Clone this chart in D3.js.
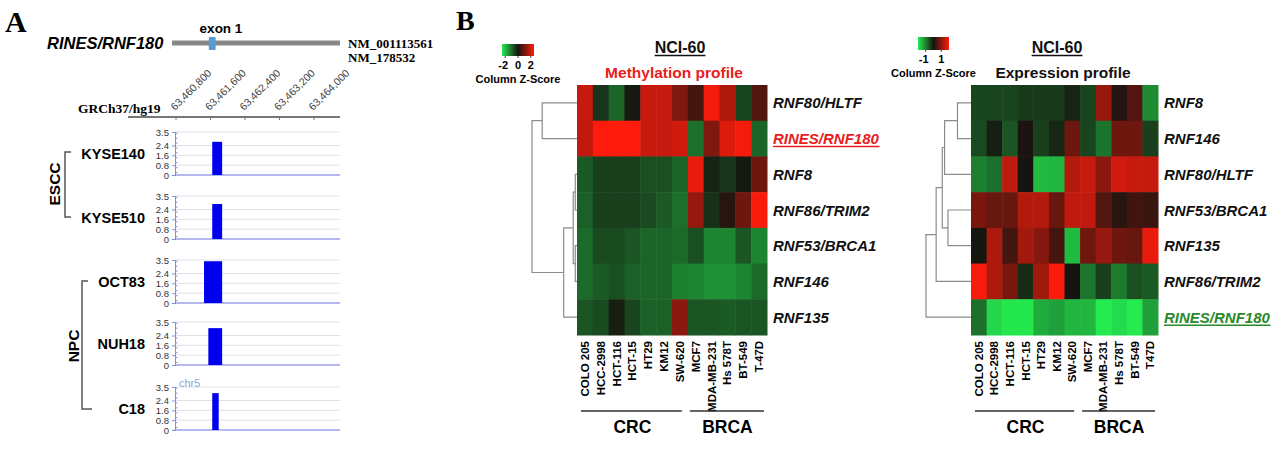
<!DOCTYPE html>
<html><head><meta charset="utf-8">
<script src="https://cdn.jsdelivr.net/npm/d3@7"></script>
<style>body{margin:0;background:#fff}svg{display:block}</style>
</head><body><svg id="c" width="1276" height="460" font-family='"Liberation Sans",Arial,sans-serif'></svg>
<script>
// ---------- Panel A data ----------
const trackNames = ['KYSE140', 'KYSE510', 'OCT83', 'NUH18', 'C18'];
const barStart = [63461640, 63461640, 63461450, 63461550, 63461640];
const barEnd = [63461870, 63461870, 63461870, 63461870, 63461790];
const barValue = [2.7, 2.85, 3.4, 3.0, 3.0];
const trackTicks = [0, 0.8, 1.6, 2.4, 3.5];
const genomeTicks = [63460800, 63461600, 63462400, 63463200, 63464000];
const exonStart = 63461560, exonEnd = 63461720;

// ---------- Panel B data ----------
const methCells = ['COLO 205', 'HCC-2998', 'HCT-116', 'HCT-15', 'HT29', 'KM12', 'SW-620', 'MCF7', 'MDA-MB-231', 'Hs 578T', 'BT-549', 'T-47D'];
const exprCells = ['COLO 205', 'HCC-2998', 'HCT-116', 'HCT-15', 'HT29', 'KM12', 'SW-620', 'MCF7', 'MDA-MB-231', 'Hs 578T', 'BT-549', 'T47D'];
const groups = ['CRC', 'BRCA'];
const groupSize = [7, 5];
const methGenes = ['RNF80/HLTF', 'RINES/RNF180', 'RNF8', 'RNF86/TRIM2', 'RNF53/BRCA1', 'RNF146', 'RNF135'];
const methValues = [
  [1.5, -0.3, -0.75, -0.05, 1.5, 1.5, 0.9, 0.4, 1.9, 1.3, -0.45, 0.5],
  [1.45, 2.0, 2.0, 2.0, 1.5, 1.5, 1.6, -0.85, 0.9, 1.7, 1.9, -0.75],
  [-0.65, -0.4, -0.4, -0.4, -0.55, -0.55, -0.75, 1.8, -0.15, -0.3, -0.05, 0.75],
  [-0.7, -0.4, -0.4, -0.4, -0.5, -0.65, -0.85, 1.1, -0.25, 0.15, 0.75, 1.95],
  [-0.8, -0.5, -0.5, -0.6, -0.75, -0.75, -0.8, -0.55, -1.05, -1.05, -0.6, -1.05],
  [-0.8, -0.65, -0.55, -0.7, -0.75, -0.75, -1.0, -1.05, -1.15, -1.15, -1.05, -0.8],
  [-0.6, -0.5, -0.1, -0.45, -0.7, -0.7, 1.0, -0.6, -0.6, -0.65, -0.6, -0.6]
];
const exprGenes = ['RNF8', 'RNF146', 'RNF80/HLTF', 'RNF53/BRCA1', 'RNF135', 'RNF86/TRIM2', 'RINES/RNF180'];
const exprValues = [
  [-0.45, -0.45, -0.45, -0.35, -0.35, -0.35, -0.15, -0.45, 1.1, 0.1, 0.5, -1.1],
  [-0.5, -0.1, -0.6, 0.05, -0.4, -0.18, 0.75, -0.45, -0.9, 0.75, 0.75, -0.4],
  [-1.0, -0.85, 1.45, 0.0, -1.55, -1.5, 1.35, 1.5, 1.0, 1.6, 1.5, 1.5],
  [0.85, 0.7, 0.7, 1.35, 1.35, 0.7, 1.45, 1.45, 0.5, 0.15, 0.35, 0.3],
  [-0.02, 1.3, 0.4, 1.2, 0.95, 0.4, -1.55, 0.75, 1.1, 0.75, 0.7, 1.8],
  [1.95, 1.3, 0.85, -0.2, 1.2, 1.95, 0.0, -0.9, -0.4, -0.95, -0.55, -0.65],
  [-0.85, -1.8, -1.95, -1.95, -1.4, -1.3, -1.5, -1.5, -2.0, -1.85, -2.0, -1.3]
];
// dendrogram merges: [childA, childB, height]; leaves 0..6, new nodes 7..
const methMerges = [[0, 1, 34], [2, 3, 1.7], [4, 5, 1.7], [8, 9, 3.7], [10, 6, 13], [7, 11, 44]];
const exprMerges = [[0, 1, 13.3], [7, 2, 26], [3, 4, 22.7], [8, 9, 28.3], [10, 5, 34.3], [11, 6, 44.3]];
const methLegendTicks = [-2, 0, 2];
const exprLegendTicks = [-1, 1];

const svg = d3.select('#c');
svg.append('rect').attr('width', 1276).attr('height', 460).attr('fill', '#fff');
const serif = '"Liberation Serif","Times New Roman",serif';

// ================= PANEL A =================
svg.append('text').attr('x', 5).attr('y', 32).attr('font-family', serif).attr('font-weight', 'bold')
  .attr('font-size', 30).text('A');
svg.append('text').attr('x', 47).attr('y', 49).attr('font-weight', 'bold').attr('font-style', 'italic')
  .attr('font-size', 16.5).text('RINES/RNF180');
const gx = d3.scaleLinear().domain([genomeTicks[0], genomeTicks[4]]).range([176, 314]);
svg.append('line').attr('x1', 172).attr('x2', 340).attr('y1', 43).attr('y2', 43)
  .attr('stroke', '#878787').attr('stroke-width', 5);
svg.append('rect').attr('x', gx(exonStart)).attr('width', gx(exonEnd) - gx(exonStart))
  .attr('y', 37).attr('height', 13).attr('rx', 1).attr('fill', '#5b9bd5');
svg.append('text').attr('x', 221).attr('y', 33).attr('text-anchor', 'middle').attr('font-weight', 'bold')
  .attr('font-size', 13.5).text('exon 1');
svg.append('text').attr('x', 348).attr('y', 48).attr('font-family', serif).attr('font-weight', 'bold')
  .attr('font-size', 13).text('NM_001113561');
svg.append('text').attr('x', 348).attr('y', 62).attr('font-family', serif).attr('font-weight', 'bold')
  .attr('font-size', 13).text('NM_178532');

svg.append('text').attr('x', 78).attr('y', 113).attr('font-family', serif).attr('font-weight', 'bold')
  .attr('font-size', 13.5).text('GRCh37/hg19');
svg.append('line').attr('x1', 128).attr('x2', 340).attr('y1', 117).attr('y2', 117)
  .attr('stroke', '#777').attr('stroke-width', 2);
genomeTicks.forEach(t => {
  svg.append('line').attr('x1', gx(t)).attr('x2', gx(t)).attr('y1', 117).attr('y2', 120).attr('stroke', '#777');
  svg.append('text').attr('transform', `translate(${gx(t) - 1},111) rotate(-45)`)
    .attr('font-size', 10.5).attr('fill', '#444').text(d3.format(',')(t));
});

const trackTop = [132, 196, 260, 322, 387];
const trackH = 43;
trackNames.forEach((name, i) => {
  const top = trackTop[i];
  const y = d3.scaleLinear().domain([0, 3.5]).range([top + trackH, top]);
  const g = svg.append('g');
  trackTicks.slice(1).forEach(v => {
    g.append('line').attr('x1', 175).attr('x2', 340).attr('y1', y(v)).attr('y2', y(v))
      .attr('stroke', '#e0e0ea').attr('stroke-width', 1);
  });
  const ax = g.append('g').attr('transform', 'translate(175,0)')
    .call(d3.axisLeft(y).tickValues(trackTicks).tickSize(3).tickFormat(d => d === 0 ? '0' : d3.format('.1f')(d)));
  ax.attr('font-family', null);
  ax.select('.domain').attr('stroke', '#8a8ae0');
  ax.selectAll('.tick line').attr('stroke', '#8a8ae0');
  ax.selectAll('text').attr('font-size', 9.5).attr('fill', '#333');
  d3.range(0.2, 3.5, 0.4).forEach(v => {
    g.append('line').attr('x1', 175).attr('x2', 177.5).attr('y1', y(v)).attr('y2', y(v)).attr('stroke', '#8a8ae0');
  });
  g.append('line').attr('x1', 175).attr('x2', 340).attr('y1', y(0)).attr('y2', y(0))
    .attr('stroke', '#7070e0').attr('stroke-width', 1);
  g.append('rect').attr('x', gx(barStart[i])).attr('width', gx(barEnd[i]) - gx(barStart[i]))
    .attr('y', y(barValue[i])).attr('height', y(0) - y(barValue[i])).attr('fill', '#0000ee');
  g.append('text').attr('x', 145).attr('y', top + trackH / 2 + 5.5).attr('text-anchor', 'end')
    .attr('font-weight', 'bold').attr('font-size', 14.5).text(name);
});
svg.append('text').attr('x', 179).attr('y', 387).attr('font-size', 11).attr('fill', '#8aa6d8').text('chr5');

// brackets
svg.append('path').attr('d', 'M71,152 H65 V217 H71').attr('fill', 'none').attr('stroke', '#555').attr('stroke-width', 1.5);
svg.append('text').attr('transform', 'translate(60,184) rotate(-90)').attr('text-anchor', 'middle')
  .attr('font-weight', 'bold').attr('font-size', 15.5).text('ESCC');
svg.append('path').attr('d', 'M88,281 H82 V409 H92').attr('fill', 'none').attr('stroke', '#555').attr('stroke-width', 1.5);
svg.append('text').attr('transform', 'translate(78.5,346) rotate(-90)').attr('text-anchor', 'middle')
  .attr('font-weight', 'bold').attr('font-size', 15.5).text('NPC');

// ================= PANEL B =================
svg.append('text').attr('x', 456).attr('y', 30).attr('font-family', serif).attr('font-weight', 'bold')
  .attr('font-size', 28).text('B');

const color = d3.scaleLinear().domain([-2, 0, 2]).range(['#24ec50', '#161410', '#ff1c0c']).clamp(true);

function underline(sel, col) {
  const bb = sel.node().getBBox();
  svg.append('line').attr('x1', bb.x).attr('x2', bb.x + bb.width).attr('y1', +sel.attr('y') + 2.5)
    .attr('y2', +sel.attr('y') + 2.5).attr('stroke', col).attr('stroke-width', 1.5);
}

function drawHeat(o) {
  const x = d3.scaleBand().domain(d3.range(o.cells.length)).range([o.x0, o.x1]);
  const y = d3.scaleBand().domain(d3.range(o.genes.length)).range([85, 335]);
  const g = svg.append('g');
  o.values.forEach((row, r) => row.forEach((v, c) => {
    g.append('rect').attr('x', x(c)).attr('y', y(r)).attr('width', x.bandwidth() + 0.5)
      .attr('height', y.bandwidth() + 0.5).attr('fill', color(v));
  }));
  o.genes.forEach((gname, r) => {
    const hl = gname === 'RINES/RNF180';
    const t = g.append('text').attr('x', o.x1 + 6).attr('y', y(r) + y.bandwidth() / 2 + 5.5)
      .attr('font-weight', 'bold').attr('font-style', 'italic').attr('font-size', 15)
      .attr('fill', hl ? o.hlColor : '#111').text(gname);
    if (hl) underline(t, o.hlColor);
  });
  o.cells.forEach((cn, c) => {
    g.append('text').attr('transform', `translate(${x(c) + x.bandwidth() / 2 + 4},341) rotate(-90)`)
      .attr('text-anchor', 'end').attr('font-weight', 'bold').attr('font-size', 11.5).text(cn);
  });
  let start = 0;
  groups.forEach((gn, gi) => {
    const a = x(start), b = x(start + groupSize[gi] - 1) + x.bandwidth();
    g.append('line').attr('x1', a + (gi === 0 ? 4 : 2)).attr('x2', b - (gi === 0 ? 6 : 3)).attr('y1', 411).attr('y2', 411)
      .attr('stroke', '#333').attr('stroke-width', 1.5);
    g.append('text').attr('x', (a + b) / 2).attr('y', 433).attr('text-anchor', 'middle')
      .attr('font-weight', 'bold').attr('font-size', 17.5).text(gn);
    start += groupSize[gi];
  });
  const ys = o.genes.map((_, r) => y(r) + y.bandwidth() / 2);
  const xs = o.genes.map(() => o.x0);
  const maxH = d3.max(o.merges, m => m[2]);
  const dx = d3.scaleLinear().domain([0, maxH]).range([o.x0, o.rootX]);
  o.merges.forEach(([a, b, h]) => {
    const nx = dx(h);
    g.append('path').attr('d', `M${xs[a]},${ys[a]} H${nx} V${ys[b]} H${xs[b]}`)
      .attr('fill', 'none').attr('stroke', '#8c8c8c').attr('stroke-width', 1.2);
    xs.push(nx); ys.push((ys[a] + ys[b]) / 2);
  });
  const t1 = svg.append('text').attr('x', o.titleX).attr('y', 53).attr('text-anchor', 'middle')
    .attr('font-weight', 'bold').attr('font-size', 16).attr('fill', '#111').text('NCI-60');
  underline(t1, '#111');
  svg.append('text').attr('x', o.subX).attr('y', 78).attr('text-anchor', 'middle')
    .attr('font-weight', 'bold').attr('font-size', 15.5).attr('fill', o.subColor).text(o.sub);
  const gid = 'grad' + o.id;
  const grad = svg.append('defs').append('linearGradient').attr('id', gid);
  [-2, 0, 2].forEach((v, i) => grad.append('stop').attr('offset', (i * 50) + '%').attr('stop-color', color(v)));
  svg.append('rect').attr('x', o.lx).attr('y', o.ly).attr('width', o.lw).attr('height', o.lh).attr('fill', `url(#${gid})`);
  const lsc = d3.scaleLinear().domain(o.lDomain).range([o.lx, o.lx + o.lw]);
  o.lTicks.forEach(t => {
    svg.append('line').attr('x1', lsc(t)).attr('x2', lsc(t)).attr('y1', o.ly + o.lh).attr('y2', o.ly + o.lh + 2)
      .attr('stroke', '#444');
    svg.append('text').attr('x', lsc(t) - (t < 0 ? 2 : 0)).attr('y', o.ly + o.lh + 13).attr('text-anchor', 'middle')
      .attr('font-weight', 'bold').attr('font-size', 11).text(t);
  });
  svg.append('text').attr('x', o.lx + o.lw / 2).attr('y', o.ly + o.lh + 27).attr('text-anchor', 'middle')
    .attr('font-weight', 'bold').attr('font-size', 11).text('Column Z-Score');
}

drawHeat({
  id: 'm', cells: methCells, genes: methGenes, values: methValues, merges: methMerges,
  x0: 577, x1: 767, rootX: 532, hlColor: '#e8201c',
  titleX: 680, subX: 674, sub: 'Methylation profile', subColor: '#e8201c',
  lx: 502, ly: 44, lw: 32, lh: 12, lDomain: [-2.5, 2.5], lTicks: methLegendTicks
});
drawHeat({
  id: 'e', cells: exprCells, genes: exprGenes, values: exprValues, merges: exprMerges,
  x0: 971, x1: 1158, rootX: 926, hlColor: '#2a8a2a',
  titleX: 1057, subX: 1063, sub: 'Expression profile', subColor: '#111',
  lx: 918, ly: 37, lw: 31, lh: 13, lDomain: [-2, 2], lTicks: exprLegendTicks
});
</script></body></html>
